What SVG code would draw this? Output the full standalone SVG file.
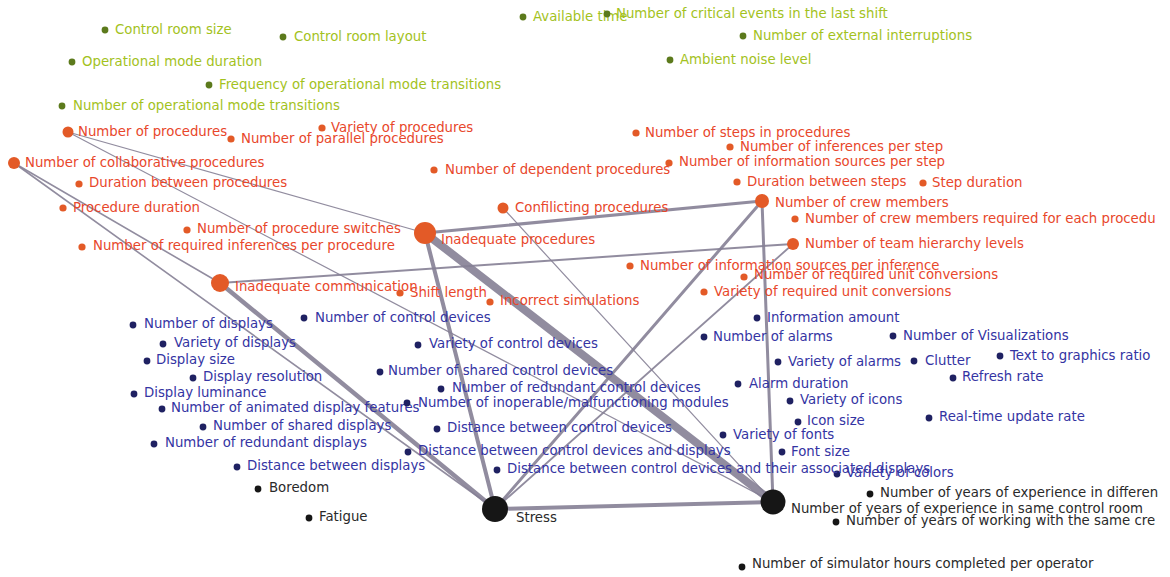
<svg xmlns="http://www.w3.org/2000/svg" width="1170" height="577" viewBox="0 0 1170 577">
  <style>
    text { font-family: "DejaVu Sans", "Liberation Sans", sans-serif; font-size: 13.3px; }
    .g text { fill: #a3c21d; }
    .g circle { fill: #5c7a1c; }
    .r text { fill: #e8472b; }
    .r circle { fill: #e35a27; }
    .b text { fill: #3434a3; }
    .b circle { fill: #1f2162; }
    .k text { fill: #2a2a2a; }
    .k circle { fill: #161616; }
    #edges line { stroke: #857f95; stroke-linecap: round; stroke-opacity: 0.9; }
  </style>
  <rect width="1170" height="577" fill="#ffffff"/>

  <!-- connectors -->
  <g id="edges">
    <line x1="425" y1="233" x2="773" y2="502" stroke-width="8"/>
    <line x1="425" y1="233" x2="495" y2="509" stroke-width="4"/>
    <line x1="425" y1="233" x2="762" y2="201" stroke-width="3"/>
    <line x1="220" y1="283" x2="495" y2="509" stroke-width="4.5"/>
    <line x1="220" y1="283" x2="793" y2="244" stroke-width="2"/>
    <line x1="762" y1="201" x2="495" y2="509" stroke-width="3"/>
    <line x1="762" y1="201" x2="773" y2="502" stroke-width="3"/>
    <line x1="793" y1="244" x2="495" y2="509" stroke-width="1.8"/>
    <line x1="495" y1="509" x2="773" y2="502" stroke-width="4"/>
    <line x1="14" y1="163" x2="495" y2="509" stroke-width="1.6"/>
    <line x1="14" y1="163" x2="220" y2="283" stroke-width="1.6"/>
    <line x1="68" y1="132" x2="425" y2="233" stroke-width="1.2"/>
    <line x1="68" y1="132" x2="773" y2="502" stroke-width="1.2"/>
    <line x1="503" y1="208" x2="773" y2="502" stroke-width="1.2"/>
  </g>

  <!-- environment factors -->
  <g class="g">
    <g id="control-room-size"><circle cx="105" cy="30" r="3.4"/><text x="115" y="34">Control room size</text></g>
    <g id="control-room-layout"><circle cx="283" cy="37" r="3.4"/><text x="294" y="41">Control room layout</text></g>
    <g id="operational-mode-duration"><circle cx="72" cy="62" r="3.4"/><text x="82" y="66">Operational mode duration</text></g>
    <g id="mode-transition-frequency"><circle cx="209" cy="85" r="3.4"/><text x="219" y="89">Frequency of operational mode transitions</text></g>
    <g id="mode-transition-count"><circle cx="62" cy="106" r="3.4"/><text x="73" y="110">Number of operational mode transitions</text></g>
    <g id="available-time"><circle cx="523" cy="17" r="3.4"/><text x="533" y="21">Available time</text></g>
    <g id="critical-events"><circle cx="607" cy="14" r="3.4"/><text x="616" y="18">Number of critical events in the last shift</text></g>
    <g id="external-interruptions"><circle cx="743" cy="36" r="3.4"/><text x="753" y="40">Number of external interruptions</text></g>
    <g id="ambient-noise"><circle cx="670" cy="60" r="3.4"/><text x="680" y="64">Ambient noise level</text></g>
  </g>

  <!-- procedure and crew factors -->
  <g class="r">
    <g id="number-of-procedures"><circle cx="68" cy="132" r="5.5"/><text x="78" y="136">Number of procedures</text></g>
    <g id="parallel-procedures"><circle cx="231" cy="139" r="3.6"/><text x="241" y="143">Number of parallel procedures</text></g>
    <g id="variety-of-procedures"><circle cx="322" cy="128" r="3.6"/><text x="331" y="132">Variety of procedures</text></g>
    <g id="collaborative-procedures"><circle cx="14" cy="163" r="6"/><text x="25" y="167">Number of collaborative procedures</text></g>
    <g id="duration-between-procedures"><circle cx="79" cy="184" r="3.6"/><text x="89" y="187">Duration between procedures</text></g>
    <g id="procedure-duration"><circle cx="63" cy="208" r="3.6"/><text x="73" y="212">Procedure duration</text></g>
    <g id="procedure-switches"><circle cx="187" cy="230" r="3.6"/><text x="197" y="233">Number of procedure switches</text></g>
    <g id="inferences-per-procedure"><circle cx="82" cy="247" r="3.6"/><text x="93" y="250">Number of required inferences per procedure</text></g>
    <g id="inadequate-communication"><circle cx="220" cy="283" r="9"/><text x="235" y="291">Inadequate communication</text></g>
    <g id="inadequate-procedures"><circle cx="425" cy="233" r="11"/><text x="441" y="244">Inadequate procedures</text></g>
    <g id="conflicting-procedures"><circle cx="503" cy="208" r="5.5"/><text x="515" y="212">Confilicting procedures</text></g>
    <g id="shift-length"><circle cx="400" cy="293" r="3.6"/><text x="410" y="297">Shift length</text></g>
    <g id="incorrect-simulations"><circle cx="490" cy="302" r="3.6"/><text x="500" y="305">Incorrect simulations</text></g>
    <g id="dependent-procedures"><circle cx="434" cy="170" r="3.6"/><text x="445" y="174">Number of dependent procedures</text></g>
    <g id="steps-in-procedures"><circle cx="636" cy="133" r="3.6"/><text x="645" y="137">Number of steps in procedures</text></g>
    <g id="inferences-per-step"><circle cx="730" cy="147" r="3.6"/><text x="740" y="151">Number of inferences per step</text></g>
    <g id="sources-per-step"><circle cx="669" cy="163" r="3.6"/><text x="679" y="166">Number of information sources per step</text></g>
    <g id="duration-between-steps"><circle cx="737" cy="182" r="3.6"/><text x="747" y="186">Duration between steps</text></g>
    <g id="step-duration"><circle cx="923" cy="183" r="3.6"/><text x="932" y="187">Step duration</text></g>
    <g id="crew-members"><circle cx="762" cy="201" r="7"/><text x="775" y="207">Number of crew members</text></g>
    <g id="crew-per-procedure"><circle cx="795" cy="219" r="3.6"/><text x="805" y="223">Number of crew members required for each procedu</text></g>
    <g id="team-hierarchy"><circle cx="793" cy="244" r="6"/><text x="805" y="248">Number of team hierarchy levels</text></g>
    <g id="sources-per-inference"><circle cx="630" cy="266" r="3.6"/><text x="640" y="270">Number of information sources per inference</text></g>
    <g id="unit-conversions"><circle cx="744" cy="277" r="3.6"/><text x="754" y="279">Number of required unit conversions</text></g>
    <g id="unit-conversion-variety"><circle cx="704" cy="292" r="3.6"/><text x="714" y="296">Variety of required unit conversions</text></g>
  </g>

  <!-- interface factors -->
  <g class="b">
    <g id="information-amount"><circle cx="757" cy="318" r="3.4"/><text x="767" y="322">Information amount</text></g>
    <g id="number-of-alarms"><circle cx="704" cy="337" r="3.4"/><text x="713" y="341">Number of alarms</text></g>
    <g id="visualizations"><circle cx="893" cy="336" r="3.4"/><text x="903" y="340">Number of Visualizations</text></g>
    <g id="variety-of-alarms"><circle cx="778" cy="362" r="3.4"/><text x="788" y="366">Variety of alarms</text></g>
    <g id="clutter"><circle cx="914" cy="361" r="3.4"/><text x="925" y="365">Clutter</text></g>
    <g id="text-graphics-ratio"><circle cx="1000" cy="356" r="3.4"/><text x="1010" y="360">Text to graphics ratio</text></g>
    <g id="refresh-rate"><circle cx="953" cy="378" r="3.4"/><text x="962" y="381">Refresh rate</text></g>
    <g id="alarm-duration"><circle cx="738" cy="384" r="3.4"/><text x="749" y="388">Alarm duration</text></g>
    <g id="variety-of-icons"><circle cx="790" cy="401" r="3.4"/><text x="800" y="404">Variety of icons</text></g>
    <g id="icon-size"><circle cx="798" cy="422" r="3.4"/><text x="807" y="425">Icon size</text></g>
    <g id="update-rate"><circle cx="929" cy="418" r="3.4"/><text x="939" y="421">Real-time update rate</text></g>
    <g id="variety-of-fonts"><circle cx="723" cy="435" r="3.4"/><text x="733" y="439">Variety of fonts</text></g>
    <g id="font-size"><circle cx="782" cy="452" r="3.4"/><text x="791" y="456">Font size</text></g>
    <g id="variety-of-colors"><circle cx="837" cy="474" r="3.4"/><text x="846" y="477">Variety of colors</text></g>
    <g id="number-of-displays"><circle cx="133" cy="325" r="3.4"/><text x="144" y="328">Number of displays</text></g>
    <g id="control-devices"><circle cx="304" cy="318" r="3.4"/><text x="315" y="322">Number of control devices</text></g>
    <g id="variety-of-displays"><circle cx="163" cy="344" r="3.4"/><text x="174" y="347">Variety of displays</text></g>
    <g id="variety-of-control-devices"><circle cx="418" cy="345" r="3.4"/><text x="429" y="348">Variety of control devices</text></g>
    <g id="display-size"><circle cx="147" cy="361" r="3.4"/><text x="156" y="364">Display size</text></g>
    <g id="display-resolution"><circle cx="193" cy="378" r="3.4"/><text x="203" y="381">Display resolution</text></g>
    <g id="shared-control-devices"><circle cx="380" cy="372" r="3.4"/><text x="388" y="375">Number of shared control devices</text></g>
    <g id="redundant-control-devices"><circle cx="441" cy="389" r="3.4"/><text x="452" y="392">Number of redundant control devices</text></g>
    <g id="display-luminance"><circle cx="134" cy="394" r="3.4"/><text x="144" y="397">Display luminance</text></g>
    <g id="animated-display-features"><circle cx="162" cy="409" r="3.4"/><text x="171" y="412">Number of animated display features</text></g>
    <g id="inoperable-modules"><circle cx="407" cy="403" r="3.4"/><text x="418" y="407">Number of inoperable/malfunctioning modules</text></g>
    <g id="shared-displays"><circle cx="203" cy="427" r="3.4"/><text x="213" y="430">Number of shared displays</text></g>
    <g id="distance-control-devices"><circle cx="437" cy="429" r="3.4"/><text x="447" y="432">Distance between control devices</text></g>
    <g id="redundant-displays"><circle cx="154" cy="444" r="3.4"/><text x="165" y="447">Number of redundant displays</text></g>
    <g id="distance-devices-displays"><circle cx="408" cy="452" r="3.4"/><text x="418" y="455">Distance between control devices and displays</text></g>
    <g id="distance-displays"><circle cx="237" cy="467" r="3.4"/><text x="247" y="470">Distance between displays</text></g>
    <g id="distance-associated-displays"><circle cx="497" cy="470" r="3.4"/><text x="507" y="473">Distance between control devices and their associated displays</text></g>
  </g>

  <!-- operator state and experience -->
  <g class="k">
    <g id="boredom"><circle cx="258" cy="489" r="3.4"/><text x="269" y="492">Boredom</text></g>
    <g id="fatigue"><circle cx="309" cy="518" r="3.4"/><text x="319" y="521">Fatigue</text></g>
    <g id="stress"><circle cx="495" cy="509" r="13"/><text x="516" y="522">Stress</text></g>
    <g id="experience-same-room"><circle cx="773" cy="502" r="12.5"/><text x="791" y="513">Number of years of experience in same control room</text></g>
    <g id="experience-different-room"><circle cx="870" cy="494" r="3.4"/><text x="880" y="497">Number of years of experience in differen</text></g>
    <g id="years-same-crew"><circle cx="836" cy="522" r="3.4"/><text x="846" y="525">Number of years of working with the same cre</text></g>
    <g id="simulator-hours"><circle cx="742" cy="567" r="3.4"/><text x="752" y="568">Number of simulator hours completed per operator</text></g>
  </g>
</svg>
